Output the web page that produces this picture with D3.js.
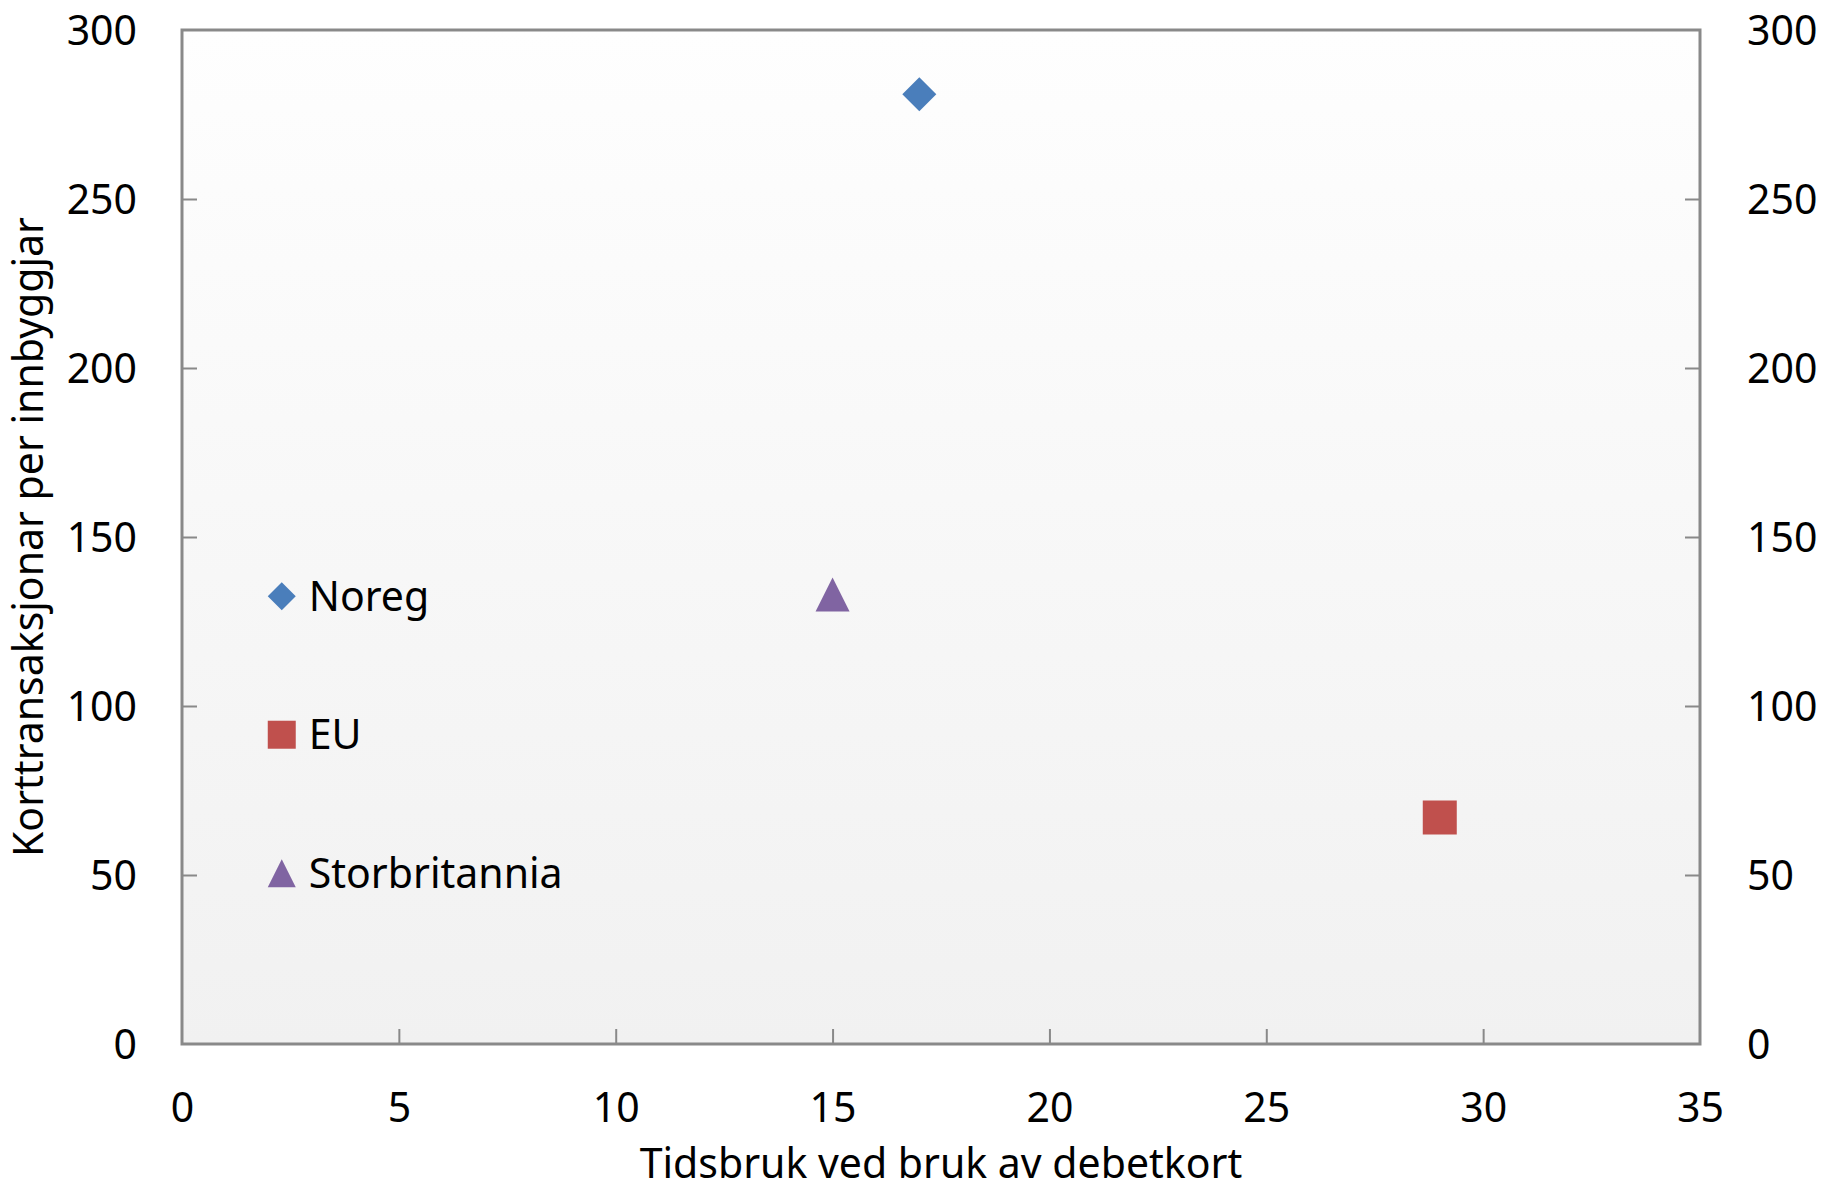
<!DOCTYPE html>
<html>
<head>
<meta charset="utf-8">
<script src="https://cdn.jsdelivr.net/npm/d3@7"></script>
<style>
  html, body { margin: 0; padding: 0; background: #ffffff; }
  svg { display: block; }
  text { font-family: "Noto Sans", "Open Sans", sans-serif; fill: #000; }
</style>
</head>
<body>
<svg id="chart" width="1826" height="1190"></svg>
<script>
// ---- data ----
const seriesNames = ["Noreg", "EU", "Storbritannia"];
const xValues = [17, 29, 15];
const yValues = [281, 67, 133];
const seriesColors = ["#4a7ebb", "#c0504d", "#8064a2"];
const seriesShapes = ["diamond", "square", "triangle"];
const xTicks = [0, 5, 10, 15, 20, 25, 30, 35];
const yTicks = [0, 50, 100, 150, 200, 250, 300];
const xTitle = "Tidsbruk ved bruk av debetkort";
const yTitle = "Korttransaksjonar per innbyggjar";
// legend anchor values (in data units, placed inside plot)
const legendX = [2.3, 2.3, 2.3];
const legendY = [132.5, 91.5, 50.5];

// ---- layout ----
const W = 1826, H = 1190;
const m = { left: 182, right: 1700, top: 30, bottom: 1044 };
const svg = d3.select("#chart");
const x = d3.scaleLinear().domain([0, 35]).range([m.left, m.right]);
const y = d3.scaleLinear().domain([0, 300]).range([m.bottom, m.top]);
const fontSize = 41;
const axisColor = "#898989";

// background gradient
const defs = svg.append("defs");
const grad = defs.append("linearGradient").attr("id", "bg")
  .attr("x1", 0).attr("y1", 0).attr("x2", 0).attr("y2", 1);
grad.append("stop").attr("offset", "0%").attr("stop-color", "#fefefe");
grad.append("stop").attr("offset", "100%").attr("stop-color", "#f1f1f1");

svg.append("rect")
  .attr("x", m.left).attr("y", m.top)
  .attr("width", m.right - m.left).attr("height", m.bottom - m.top)
  .attr("fill", "url(#bg)");

// axes (ticks inward)
function styleAxis(g) {
  g.select(".domain").remove();
  g.selectAll(".tick line").attr("stroke", axisColor).attr("stroke-width", 2);
  g.selectAll(".tick text").attr("font-size", fontSize).attr("fill", "#000")
    .style("font-family", '"Noto Sans", sans-serif');
}
const xAxis = svg.append("g").attr("transform", `translate(0,${m.bottom})`)
  .call(d3.axisBottom(x).tickValues(xTicks).tickFormat(d3.format("d"))
    .tickSizeInner(-15).tickSizeOuter(0).tickPadding(0));
styleAxis(xAxis);
xAxis.selectAll(".tick text").attr("y", 78).attr("dy", "0");
xAxis.selectAll(".tick").filter(d => d === 0 || d === 35).select("line").remove();

const yAxisL = svg.append("g").attr("transform", `translate(${m.left},0)`)
  .call(d3.axisLeft(y).tickValues(yTicks).tickFormat(d3.format("d"))
    .tickSizeInner(-15).tickSizeOuter(0).tickPadding(0));
styleAxis(yAxisL);
yAxisL.selectAll(".tick text").attr("x", -45).attr("dy", "0.357em");
yAxisL.selectAll(".tick").filter(d => d === 0 || d === 300).select("line").remove();

const yAxisR = svg.append("g").attr("transform", `translate(${m.right},0)`)
  .call(d3.axisRight(y).tickValues(yTicks).tickFormat(d3.format("d"))
    .tickSizeInner(-15).tickSizeOuter(0).tickPadding(0));
styleAxis(yAxisR);
yAxisR.selectAll(".tick text").attr("x", 47).attr("dy", "0.357em");
yAxisR.selectAll(".tick").filter(d => d === 0 || d === 300).select("line").remove();

// plot border
svg.append("rect")
  .attr("x", m.left).attr("y", m.top)
  .attr("width", m.right - m.left).attr("height", m.bottom - m.top)
  .attr("fill", "none").attr("stroke", axisColor).attr("stroke-width", 3);

// axis titles
svg.append("text")
  .attr("x", (m.left + m.right) / 2).attr("y", 1178)
  .attr("text-anchor", "middle").attr("font-size", fontSize)
  .text(xTitle);
svg.append("text")
  .attr("transform", `translate(43,${(m.top + m.bottom) / 2}) rotate(-90)`)
  .attr("text-anchor", "middle").attr("font-size", fontSize)
  .text(yTitle);

// custom symbol types (width = height = s, centered)
const shapes = {
  diamond: { draw(ctx, size) { const r = Math.sqrt(size) / 2;
    ctx.moveTo(0, -r); ctx.lineTo(r, 0); ctx.lineTo(0, r); ctx.lineTo(-r, 0); ctx.closePath(); } },
  square: { draw(ctx, size) { const r = Math.sqrt(size) / 2;
    ctx.rect(-r, -r, 2 * r, 2 * r); } },
  triangle: { draw(ctx, size) { const r = Math.sqrt(size) / 2;
    ctx.moveTo(0, -r); ctx.lineTo(r, r); ctx.lineTo(-r, r); ctx.closePath(); } }
};

const pts = seriesNames.map((n, i) => ({ name: n, x: xValues[i], y: yValues[i],
  color: seriesColors[i], shape: seriesShapes[i], lx: legendX[i], ly: legendY[i] }));

// points
svg.append("g").selectAll("path").data(pts).join("path")
  .attr("transform", d => `translate(${x(d.x)},${y(d.y)})`)
  .attr("d", d => d3.symbol().type(shapes[d.shape]).size(34 * 34)())
  .attr("fill", d => d.color);

// legend
const lg = svg.append("g").selectAll("g").data(pts).join("g")
  .attr("transform", d => `translate(${x(d.lx)},${y(d.ly)})`);
lg.append("path")
  .attr("d", d => d3.symbol().type(shapes[d.shape]).size(28 * 28)())
  .attr("fill", d => d.color);
lg.append("text")
  .attr("x", 27).attr("dy", "0.357em")
  .attr("font-size", fontSize)
  .text(d => d.name);
</script>
</body>
</html>
